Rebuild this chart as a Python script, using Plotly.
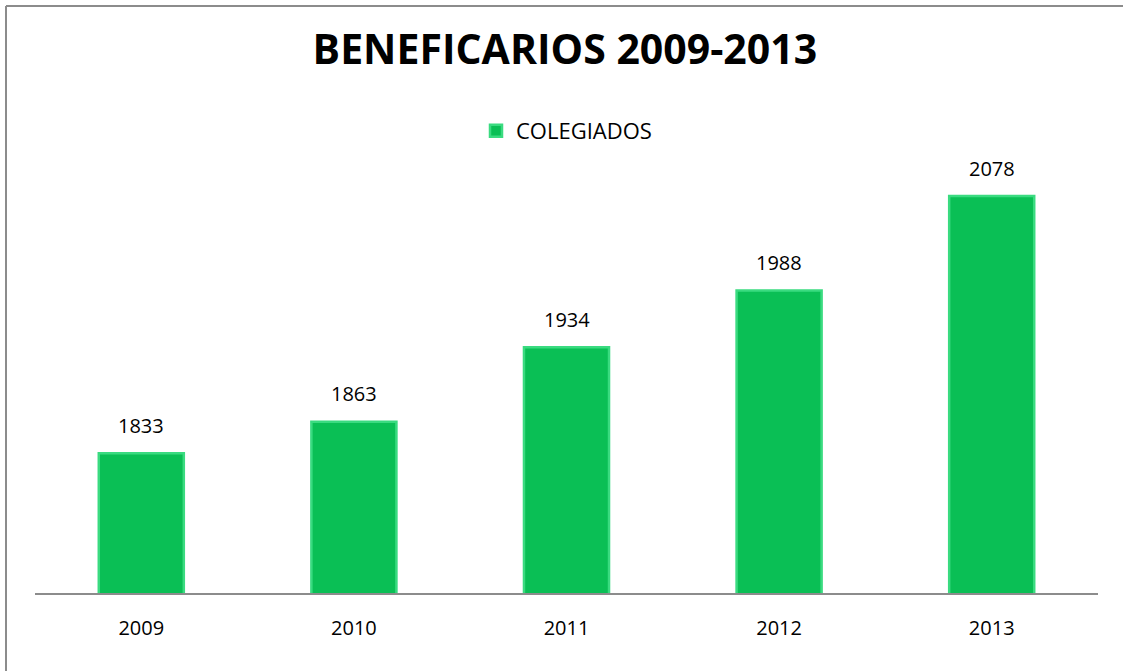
import plotly.graph_objects as go

years = ["2009", "2010", "2011", "2012", "2013"]
colegiados = [1833, 1863, 1934, 1988, 2078]

fig = go.Figure()
fig.add_trace(go.Bar(
    x=years, y=colegiados, name="COLEGIADOS",
    marker=dict(color="#0ABF55", line=dict(color="#3ADB80", width=2.5)),
))

# data labels (category axis positions are serial indices)
for i, v in enumerate(colegiados):
    fig.add_annotation(x=i, y=v, text=str(v), showarrow=False,
                       yshift=28, font=dict(size=20, color="#000000", family="Open Sans"))

border = dict(color="#8C8C8C", width=2)
fig.update_layout(
    width=1123, height=671,
    paper_bgcolor="white", plot_bgcolor="white",
    margin=dict(l=35, r=25, t=173, b=78),
    bargap=0.6,
    title=dict(text="<b>BENEFICARIOS 2009-2013</b>", x=0.503, xanchor="center",
               y=1 - 50/671, yanchor="middle",
               font=dict(size=41, family="Open Sans", color="#000000")),
    showlegend=True,
    legend=dict(orientation="h", x=0.5, xanchor="center", y=1 - 131/671,
                yref="container", yanchor="middle",
                font=dict(size=22, family="Open Sans", color="#000000"),
                itemwidth=30),
    font=dict(family="Open Sans"),
    shapes=[
        dict(type="line", xref="paper", yref="paper",
             x0=(6-35)/1063, x1=(6-35)/1063, y0=-0.5, y1=(593-6)/420, line=border),
        dict(type="line", xref="paper", yref="paper",
             x0=(6-35)/1063, x1=1.2, y0=(593-6)/420, y1=(593-6)/420, line=border),
    ],
)
fig.update_xaxes(type="category", showline=True, linecolor="#8C8C8C", linewidth=2, ticks="",
                 tickfont=dict(size=20, color="#000000", family="Open Sans"),
                 ticklabelstandoff=16, showgrid=False)
fig.update_yaxes(range=[1700, 2100], visible=False, showgrid=False)

fig.write_html("out.html", config={"displayModeBar": False},
               post_script="document.body.style.margin='0';document.body.style.overflow='hidden';")
